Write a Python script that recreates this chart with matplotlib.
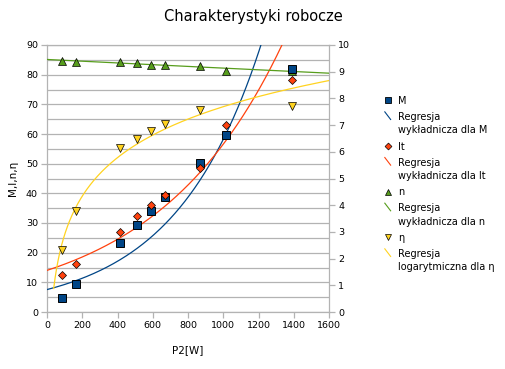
import numpy as np
import matplotlib
matplotlib.use("Agg")
import matplotlib.pyplot as plt
from matplotlib.lines import Line2D
from matplotlib.legend_handler import HandlerBase

# ---- data ----
P2 = [83, 166, 412, 512, 592, 671, 870, 1017, 1392]
M_vals = [4.6, 9.3, 23.4, 29.2, 33.9, 38.7, 50.2, 59.5, 81.8]
It_vals = [12.6, 16.2, 27.0, 32.4, 36.1, 39.4, 48.6, 63.0, 78.2]
n_vals = [84.7, 84.4, 84.3, 83.9, 83.3, 83.3, 82.9, 81.3, 81.3]
eta_P2 = [83, 166, 412, 512, 592, 671, 870, 1392]
eta_vals = [20.8, 34.0, 55.2, 58.4, 61.1, 63.4, 68.1, 69.5]

x_ticks = [0, 200, 400, 600, 800, 1000, 1200, 1400, 1600]
left_ticks = [0, 10, 20, 30, 40, 50, 60, 70, 80, 90]
right_ticks = [0, 1, 2, 3, 4, 5, 6, 7, 8, 9, 10]

title = "Charakterystyki robocze"
xlabel = "P2[W]"
ylabel = "M,I,n,η"

C_M = "#004586"
C_It = "#ff420e"
C_n = "#579d1c"
C_eta = "#ffd320"
GRID = "#b3b3b3"

plt.rcParams['font.family'] = ['DejaVu Sans']

fig = plt.figure(figsize=(5.06, 3.69), dpi=100)
ax = fig.add_axes([47/506, 1-312/369, (329-47)/506, (312-45)/369])

x = np.asarray(P2, float)


def expfit(xv, yv):
    b, lna = np.polyfit(xv, np.log(yv), 1)
    return np.exp(lna), b


xx = np.linspace(0, 1600, 400)
for vals, col in [(M_vals, C_M), (It_vals, C_It), (n_vals, C_n)]:
    a, b = expfit(x, np.asarray(vals, float))
    ax.plot(xx, a*np.exp(b*xx), color=col, lw=0.9, zorder=3)

bl, al = np.polyfit(np.log(eta_P2), eta_vals, 1)
xl = np.linspace(38, 1600, 400)
ax.plot(xl, al + bl*np.log(xl), color=C_eta, lw=0.9, zorder=3)

ms = 5.5
ax.plot(P2, M_vals, 's', color=C_M, mec='black', mew=0.7, ms=ms, zorder=5)
ax.plot(P2, It_vals, 'D', color=C_It, mec='black', mew=0.5, ms=4, zorder=6)
ax.plot(P2, n_vals, '^', color=C_n, mec='black', mew=0.5, ms=5.5, zorder=4)
ax.plot(eta_P2, eta_vals, 'v', color=C_eta, mec='black', mew=0.5, ms=5.5, zorder=4)

ax.set_xlim(0, 1600)
ax.set_ylim(0, 90)
ax.set_xticks(x_ticks)
ax.set_yticks(left_ticks)
ax.set_yticks(np.arange(0, 91, 5), minor=True)
ax.grid(axis='y', which='both', color=GRID, lw=0.9, zorder=0)
ax.set_axisbelow(True)
for s in ax.spines.values():
    s.set_color(GRID)
    s.set_linewidth(0.9)
ax.tick_params(axis='both', which='major', labelsize=6.8, color=GRID, length=4.5, width=0.9, pad=2)
ax.tick_params(axis='y', which='minor', length=0)

ax2 = ax.twinx()
ax2.set_ylim(0, 10)
ax2.set_yticks(right_ticks)
ax2.tick_params(axis='y', labelsize=6.8, color=GRID, length=4.5, width=0.9, pad=2)
for s in ax2.spines.values():
    s.set_visible(False)

ax.set_xlabel(xlabel, fontsize=7.5, labelpad=11)
ax.set_ylabel(ylabel, fontsize=7.5, labelpad=6)
fig.text(253/506, 1-17/369, title, fontsize=10.5, ha='center', va='center')


class DiagHandler(HandlerBase):
    def create_artists(self, legend, orig_handle, xdescent, ydescent,
                       width, height, fontsize, trans):
        top = ydescent + height
        l = Line2D([width*0.2, width*0.8],
                   [top + 6.5, top + 1.0],
                   color=orig_handle.get_color(), lw=0.8)
        l.set_transform(trans)
        return [l]


handles = [
    Line2D([], [], ls='none', marker='s', color=C_M, mec='black', mew=0.6, ms=4.5),
    Line2D([], [], color=C_M),
    Line2D([], [], ls='none', marker='D', color=C_It, mec='black', mew=0.5, ms=3.5),
    Line2D([], [], color=C_It),
    Line2D([], [], ls='none', marker='^', color=C_n, mec='black', mew=0.5, ms=4.5),
    Line2D([], [], color=C_n),
    Line2D([], [], ls='none', marker='v', color=C_eta, mec='black', mew=0.5, ms=4.5),
    Line2D([], [], color=C_eta),
]
labels = ["M", "Regresja\nwykładnicza dla M", "It", "Regresja\nwykładnicza dla It",
          "n", "Regresja\nwykładnicza dla n", "η", "Regresja\nlogarytmiczna dla η"]
hmap = {h: DiagHandler() for h in [handles[1], handles[3], handles[5], handles[7]]}
leg = fig.legend(handles, labels, loc='upper left', bbox_to_anchor=(378/506, 1-91/369),
                 frameon=False, fontsize=7, handlelength=1.0, handletextpad=0.55,
                 labelspacing=0.62, borderpad=0, handler_map=hmap)
for t in leg.get_texts():
    t.set_linespacing(1.45)

fig.savefig("out.png", dpi=100)
